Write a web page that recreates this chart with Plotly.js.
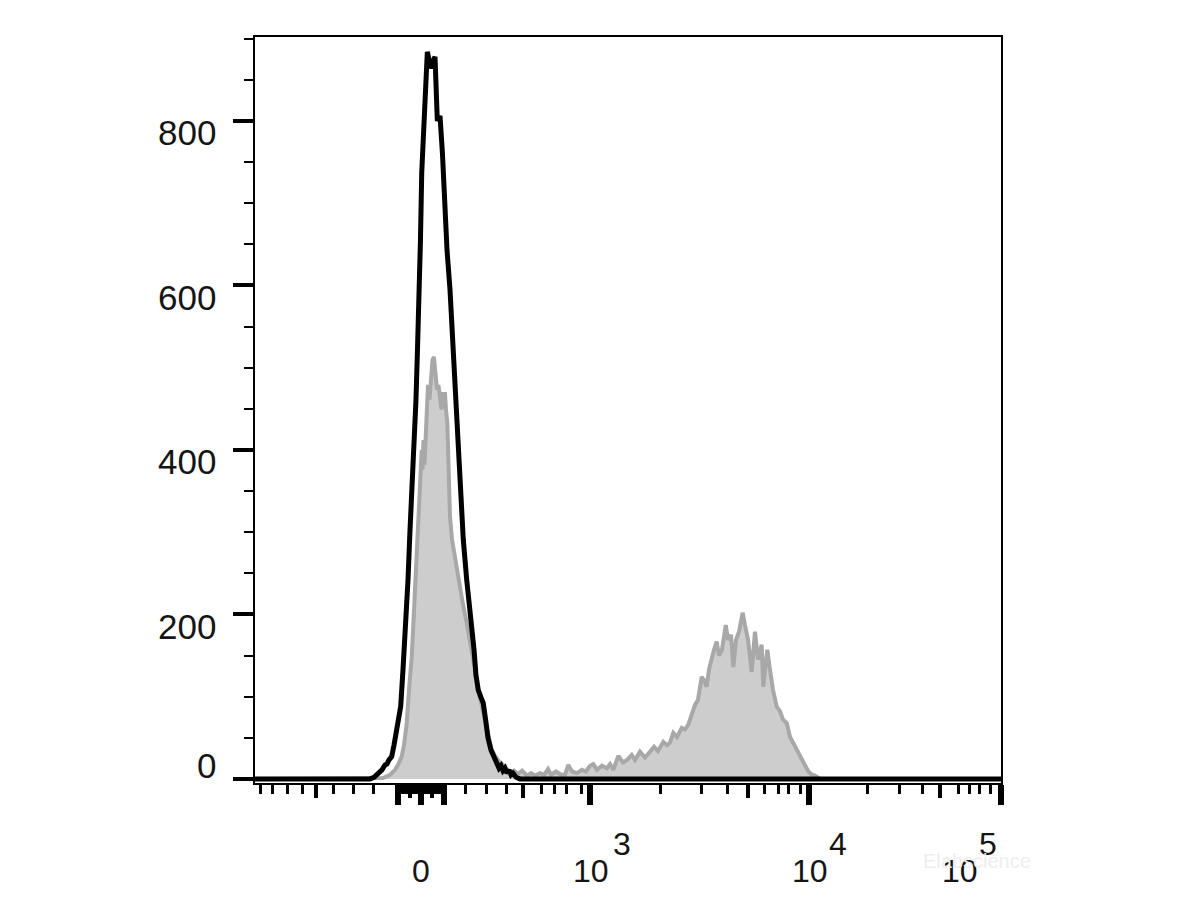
<!DOCTYPE html>
<html><head><meta charset="utf-8">
<script src="https://cdn.plot.ly/plotly-3.0.1.min.js"></script>
<style>html,body{margin:0;padding:0;background:#fff}#chart{width:1200px;height:900px}</style>
</head><body><div id="chart"></div>
<script>
// Histogram data on the display (biexponential channel) scale 0-1000
const blackX = [0,154.2,159.5,163.5,167.6,170.2,174.3,176.9,179.6,183.2,186.3,189.0,191.7,195.3,198.4,202.4,205.1,207.8,210.5,213.5,215.8,217.8,220.2,221.8,223.5,225.9,227.9,229.5,231.0,233.9,236.9,239.3,241.3,244.4,248.0,251.3,252.4,254.7,257.4,261.4,264.1,268.1,270.8,273.9,276.5,279.2,283.8,286.9,290.5,293.6,296.2,299.3,302.9,306.0,309.7,312.3,316.4,320.4,324.0,327.1,329.8,332.4,335.1,337.8,340.5,343.2,345.8,349.9,355.2,1000];
const blackY = [0,0,2,5,9,11,17,18,23,27,41,57,72,88,133,190,242,303,351,392,461,522,582,655,737,777,817,856,884,872,864,874,878,800,806,760,737,686,643,595,546,494,443,392,339,291,242,218,190,157,126,108,99,92,68,50,35,27,20,13,16,10,13,7,11,5,7,2,0,0];

const grayX = [0,156.8,171.6,181.0,187.7,191.7,196.6,199.7,203.4,206.4,210.1,212.2,214.5,216.5,218.9,220.6,221.8,223.5,224.5,225.9,227.2,229.2,230.2,231.9,233.9,235.9,237.9,239.9,241.9,243.9,245.9,248.0,250.0,252.0,254.7,256.0,257.8,259.1,260.1,261.4,264.1,268.1,271.4,274.8,278.8,283.8,288.2,292.6,296.2,299.3,303.6,308.3,312.3,317.3,321.7,328.4,333.8,337.8,341.8,347.2,352.5,358.0,364.6,370.0,375.3,382.0,387.4,392.8,396.8,403.5,410.2,415.5,420.0,425.0,431.6,438.3,443.7,449.1,453.5,458.4,465.1,471.8,475.9,480.3,487.0,493.3,498.7,505.0,509.4,516.1,522.8,529.5,534.9,540.2,547.3,552.3,556.3,560.7,565.7,572.0,576.4,580.8,585.8,589.8,593.8,598.8,601.9,605.5,608.6,612.2,615.3,618.9,622.0,626.0,631.0,634.1,638.1,641.2,644.8,648.8,653.8,656.8,660.9,665.8,670.2,674.3,679.2,681.4,686.7,690.3,694.4,699.3,703.8,707.8,712.8,717.2,721.2,726.1,730.6,735.0,738.6,741.7,746.6,750.7,757.4,1000];
const grayY = [0,0,1,5,11,17,27,41,68,108,148,187,230,272,311,351,388,400,376,412,382,437,461,479,461,491,509,513,497,473,479,464,449,468,468,449,433,392,351,319,291,270,248,230,212,190,169,148,126,108,90,68,51,35,28,20,16,12,7,10,6,10,4,7,4,7,5,12,5,9,5,5,17,9,7,11,9,16,18,11,16,13,18,11,28,20,23,29,23,33,26,33,39,34,45,41,44,56,51,62,60,66,80,90,96,124,120,112,133,147,157,167,150,157,187,169,175,136,169,179,202,187,169,130,179,145,163,112,157,133,108,88,82,72,68,51,44,35,29,21,13,9,5,4,0,0];

// Axis tick positions on the display scale
const xTickMajor = [191.7,222.5,253.4,449.1,742.6,1000];
const xTickMid = [81.8,207.1,237.9,359.2,660.9,918.2];
const xTickMinor = [8.0,22.8,42.9,63.0,104.6,132.7,159.5,194.7,197.8,200.9,204.0,210.2,213.2,216.3,219.4,225.6,228.7,231.8,234.8,241.0,244.1,247.2,250.3,281.5,309.7,336.5,383.4,402.1,418.2,437.0,542.9,597.9,634.0,683.6,701.1,715.8,730.6,821.7,863.3,895.4,942.4,957.1,971.8,985.3];

const xLabelPos = [222.5,449.1,742.6,1000];
const xLabelBase = ["0","10","10","10"];
const xLabelExp = ["","3","4","5"];
const yTickVals = [0,200,400,600,800];
const yTickLabels = ["0","200","400","600","800"];

const FONT = "Liberation Sans, Arial, sans-serif";
const TXT = "#151515";
const baseShift = [0,1,1,-41];
const expShift = [0,32,29,-13];

const annotations = [];
yTickVals.forEach((v,i)=>{
  annotations.push({xref:'paper',yref:'y',x:0,y:v,xanchor:'right',yanchor:'middle',
    xshift:-37, yshift:(v===0? 13 : -12), showarrow:false,
    text:yTickLabels[i], font:{family:FONT,size:35,color:TXT}});
});
xLabelPos.forEach((p,i)=>{
  annotations.push({xref:'x',yref:'paper',x:p,y:0,xanchor:'center',yanchor:'middle',
    xshift:baseShift[i], yshift:-88, showarrow:false,
    text:xLabelBase[i], font:{family:FONT,size:32,color:TXT}});
  if(xLabelExp[i]){
    annotations.push({xref:'x',yref:'paper',x:p,y:0,xanchor:'center',yanchor:'middle',
      xshift:expShift[i], yshift:-61, showarrow:false,
      text:xLabelExp[i], font:{family:FONT,size:32,color:TXT}});
  }
});
annotations.push({xref:'paper',yref:'paper',x:0.968,y:0,xanchor:'center',yanchor:'middle',
  yshift:-78, showarrow:false, text:'Elabscience',
  font:{family:FONT,size:20,color:'#eeeeee'}});

const traces = [
  {x:grayX, y:grayY, type:'scatter', mode:'lines', fill:'tozeroy',
   fillcolor:'rgb(205,205,205)', line:{color:'rgb(168,168,168)', width:4}, hoverinfo:'skip'},
  {x:blackX, y:blackY, type:'scatter', mode:'lines',
   line:{color:'#000', width:5}, hoverinfo:'skip'},
  {x:[], y:[], xaxis:'x2', yaxis:'y', type:'scatter', mode:'lines', hoverinfo:'skip'}
];

const layout = {
  width:1200, height:900,
  margin:{l:255, r:199, t:37, b:117, pad:0},
  paper_bgcolor:'#fff', plot_bgcolor:'#fff',
  showlegend:false,
  xaxis:{range:[0,1000], showgrid:false, zeroline:false,
    showline:true, linecolor:'#000', linewidth:2, mirror:true,
    tickmode:'array', tickvals:xTickMajor, ticks:'outside', ticklen:20, tickwidth:6, tickcolor:'#000',
    showticklabels:false,
    minor:{tickmode:'array', tickvals:xTickMinor, ticks:'outside', ticklen:9, tickwidth:3, tickcolor:'#000', showgrid:false}},
  xaxis2:{range:[0,1000], overlaying:'x', anchor:'y', side:'bottom', showgrid:false, zeroline:false,
    showline:false, tickmode:'array', tickvals:xTickMid, ticks:'outside', ticklen:14, tickwidth:4, tickcolor:'#000',
    showticklabels:false},
  yaxis:{range:[-5,902], showgrid:false, zeroline:false,
    showline:true, linecolor:'#000', linewidth:2, mirror:true,
    tickmode:'array', tickvals:yTickVals, ticks:'outside', ticklen:20, tickwidth:4, tickcolor:'#000',
    showticklabels:false,
    minor:{dtick:50, tick0:0, ticks:'outside', ticklen:9, tickwidth:2, tickcolor:'#000', showgrid:false}},
  annotations:annotations
};

Plotly.newPlot('chart', traces, layout, {staticPlot:true, displayModeBar:false});
</script></body></html>
